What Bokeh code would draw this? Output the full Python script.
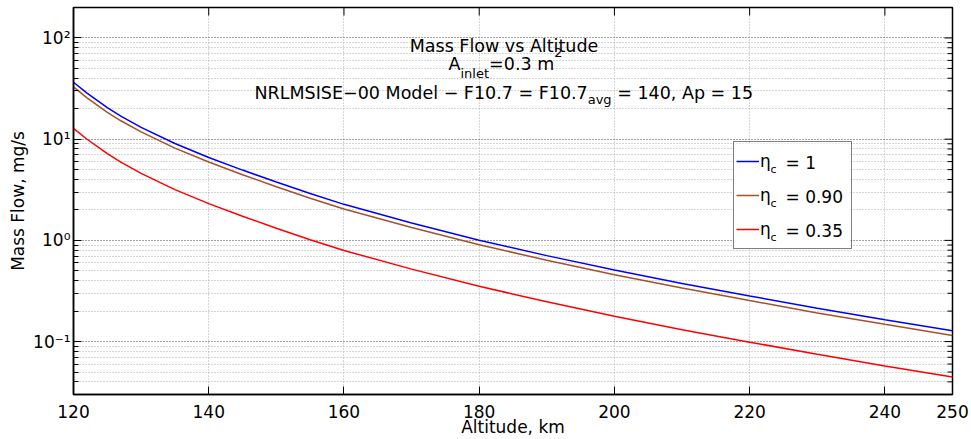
import math
from bokeh.plotting import figure
from bokeh.models import (ColumnDataSource, FixedTicker, Legend, LegendItem, Label, Range1d,
                          BoxAnnotation)
from bokeh.core.properties import value
from bokeh.embed import file_html
from bokeh.resources import INLINE

# ---- data ----
altitude_km = [120, 122, 125, 127, 130, 135, 140, 145, 150, 155, 160, 170, 180, 190,
               200, 210, 220, 230, 240, 250]
flow_eta_100 = [36.5, 28.5, 20.5, 16.9, 13.1, 9.06, 6.6, 4.95, 3.77, 2.9, 2.27, 1.487,
                1.005, 0.707, 0.5085, 0.375, 0.282, 0.2136, 0.164, 0.1278]
flow_eta_090 = [32.9, 25.6, 18.4, 15.2, 11.8, 8.15, 5.94, 4.45, 3.39, 2.61, 2.04, 1.34,
                0.905, 0.636, 0.458, 0.338, 0.254, 0.192, 0.148, 0.115]
flow_eta_035 = [12.8, 9.98, 7.18, 5.92, 4.59, 3.17, 2.31, 1.73, 1.32, 1.015, 0.795, 0.52,
                0.352, 0.247, 0.178, 0.131, 0.0987, 0.0748, 0.0574, 0.0447]
series_values = ["1", "0.90", "0.35"]
series_colors = ["#0000ff", "#a5522a", "#ff0000"]

x_ticks = [120, 140, 160, 180, 200, 220, 240, 250]
y_ticks = [0.1, 1, 10, 100]
y_tick_labels = ["10\u207b\u00b9", "10\u2070", "10\u00b9", "10\u00b2"]
y_minor = [0.03, 0.04, 0.05, 0.06, 0.07, 0.08, 0.09,
           0.2, 0.3, 0.4, 0.5, 0.6, 0.7, 0.8, 0.9,
           2, 3, 4, 5, 6, 7, 8, 9,
           20, 30, 40, 50, 60, 70, 80, 90, 200]
x_min, x_max = 120, 250
y_min, y_max = 0.03, 200

FONT = "DejaVu Sans"

p = figure(width=971, height=439, x_range=Range1d(x_min, x_max), y_range=Range1d(y_min, y_max),
           y_axis_type="log", output_backend="svg", toolbar_location=None,
           min_border_left=73, min_border_right=19, min_border_top=7, min_border_bottom=45,
           background_fill_color="white", border_fill_color="white")
p.outline_line_color = "black"
p.outline_line_width = 1.5

src = ColumnDataSource(dict(alt=altitude_km, a=flow_eta_100, b=flow_eta_090, c=flow_eta_035))
renderers = []
for col, colr in zip(["a", "b", "c"], series_colors):
    renderers.append(p.line(x="alt", y=col, source=src, line_color=colr, line_width=1.5))

xt = FixedTicker(ticks=x_ticks, minor_ticks=[])
yt = FixedTicker(ticks=y_ticks, minor_ticks=y_minor)


def style(ax):
    ax.axis_line_color = "black"
    ax.axis_line_width = 1.5
    ax.major_tick_line_color = "black"
    ax.minor_tick_line_color = "black"
    ax.major_tick_in = 8
    ax.major_tick_out = 0
    ax.minor_tick_in = 5
    ax.minor_tick_out = 0
    ax.major_label_text_font = FONT
    ax.major_label_text_font_size = "17px"
    ax.major_label_text_color = "black"
    ax.axis_label_text_font = FONT
    ax.axis_label_text_font_size = "17px"
    ax.axis_label_text_font_style = "normal"
    ax.axis_label_text_color = "black"


xb = p.below[0]
xb.ticker = xt
style(xb)
xb.axis_label = "Altitude, km"
xb.major_label_standoff = 10
xb.axis_label_standoff = -4

yl = p.left[0]
yl.ticker = yt
style(yl)
yl.axis_label = "Mass Flow, mg/s"
yl.major_label_overrides = {t: s for t, s in zip(y_ticks, y_tick_labels)}
yl.major_label_standoff = 3
yl.axis_label_standoff = 2

# ticks on the top and right edges (box on), pointing inward
p.ray(x=x_ticks, y=[y_max] * len(x_ticks), length=8, length_units="screen",
      angle=-math.pi / 2, line_color="black", line_width=1)
p.ray(x=[x_max] * len(y_ticks), y=y_ticks, length=8, length_units="screen",
      angle=math.pi, line_color="black", line_width=1)
p.ray(x=[x_max] * len(y_minor), y=y_minor, length=5, length_units="screen",
      angle=math.pi, line_color="black", line_width=1)

p.xgrid.grid_line_color = "#aaaaaa"
p.xgrid.grid_line_dash = "1 2"
p.ygrid.grid_line_color = "#444444"
p.ygrid.grid_line_dash = "1 2"
p.ygrid.minor_grid_line_color = "#aaaaaa"
p.ygrid.minor_grid_line_dash = "1 2"


def lab(x, y, t, size="17.5px", align="left", baseline="alphabetic"):
    p.add_layout(Label(x=x, y=y, x_units="screen", y_units="screen", text=t,
                       text_font=FONT, text_font_size=size, text_color="black",
                       text_align=align, text_baseline=baseline, level="overlay"))


# ---- title block (three lines, inside the frame) ----
lab(430.5, 349, "Mass Flow vs Altitude", align="center")
lab(375, 330.7, "A")
lab(387, 321, "inlet", size="13px")
lab(415.6, 330.7, "=0.3 m")
lab(480.7, 342.3, "2", size="13px")
lab(181, 301.3, "NRLMSISE\u221200 Model \u2212 F10.7 = F10.7")
lab(514.2, 295.5, "avg", size="13px")
lab(543.7, 301.3, "= 140, Ap = 15")

# ---- legend ----
leg_x, leg_y, pad, row_h, leg_w = 660, 145, 2, 34, 117
leg_h = 2 * pad + row_h * len(series_values)
# white panel behind the (transparent) legend, hiding the grid
p.add_layout(BoxAnnotation(left=leg_x, right=leg_x + leg_w, bottom=leg_y, top=leg_y + leg_h,
                           left_units="screen", right_units="screen",
                           bottom_units="screen", top_units="screen",
                           fill_color="white", fill_alpha=1, line_alpha=0, level="glyph"))
items = [LegendItem(label=value("\u03b7"), renderers=[r]) for r in renderers]
legend = Legend(items=items, location=(leg_x, leg_y), orientation="vertical",
                padding=pad, spacing=0, margin=0, glyph_width=23, glyph_height=row_h,
                label_height=row_h, label_width=leg_w - 2 * pad - 24, label_standoff=1,
                label_text_font=FONT, label_text_font_size="17px",
                label_text_color="black", border_line_color="black",
                border_line_width=1, background_fill_alpha=0)
p.add_layout(legend)

top = leg_y + leg_h
for i, sv in enumerate(series_values):
    rc = top - pad - row_h / 2 - row_h * i
    lab(leg_x + 37, rc - 7, "c", size="11px", baseline="middle")
    lab(leg_x + 52, rc, "= " + sv, size="17px", baseline="middle")

open("out.html", "w").write(file_html(p, INLINE))
